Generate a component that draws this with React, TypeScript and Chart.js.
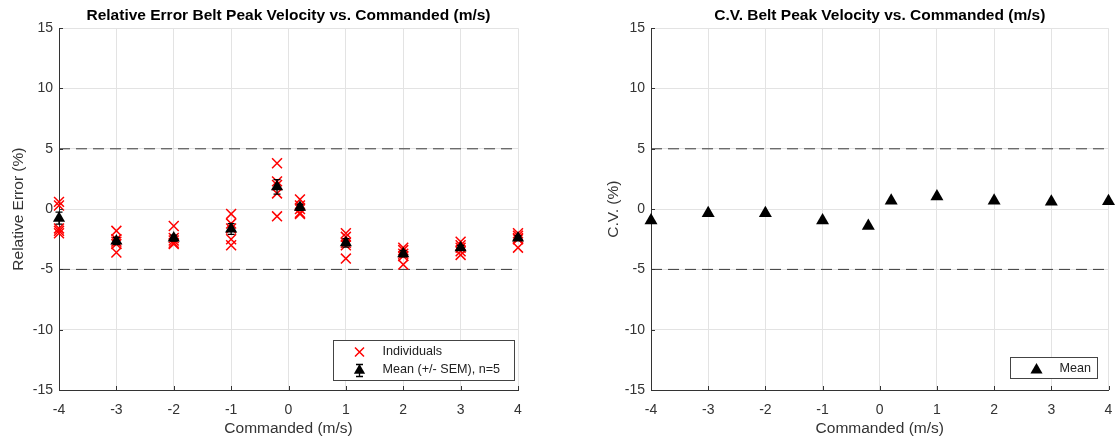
import React, { useEffect, useRef } from "react";
import { Chart, registerables } from "chart.js";
Chart.register(...registerables);

const commanded = [-4, -3, -2, -1, -0.2, 0.2, 1, 2, 3, 4];
const individualErrors = [
  [0.6, 0.3, -1.6, -1.8, -2.0],
  [-1.8, -2.5, -2.7, -2.9, -3.6],
  [-1.4, -2.4, -2.6, -2.8, -2.9],
  [-0.4, -1.2, -1.6, -2.5, -3.0],
  [3.8, 2.3, 2.0, 1.3, -0.6],
  [0.8, 0.3, 0.0, -0.3, -0.4],
  [-2.0, -2.3, -2.8, -3.0, -4.1],
  [-3.2, -3.4, -3.7, -3.9, -4.6],
  [-2.7, -3.0, -3.2, -3.5, -3.8],
  [-2.0, -2.2, -2.4, -2.5, -3.2],
];
const meanErrors = [-0.75, -2.65, -2.4, -1.65, 1.85, 0.15, -2.8, -3.7, -3.2, -2.4];
const semErrors = [0.5, 0.3, 0.25, 0.45, 0.6, 0.25, 0.35, 0.25, 0.2, 0.2];
const cvMeans = [-0.95, -0.35, -0.35, -0.95, -1.4, 0.7, 1.05, 0.7, 0.6, 0.65];
const thresholds = [5, -5];
const xRange = [-4, 4];
const yRange = [-15, 15];

const FONT = "Arial, 'Liberation Sans', sans-serif";
const TICK = "#333333";
const GRID = "#e3e3e3";
const AXIS = "#333333";
const TICK_SIZE = 14;
const LABEL_SIZE = 15.5;
const LEGEND_SIZE = 12.6;

function drawTriangle(ctx: CanvasRenderingContext2D, x: number, y: number, r: number) {
  let rad = 0;
  const TT = (Math.PI * 2) / 3;
  ctx.beginPath();
  ctx.moveTo(x + Math.sin(rad) * r, y - Math.cos(rad) * r);
  rad += TT;
  ctx.lineTo(x + Math.sin(rad) * r, y - Math.cos(rad) * r);
  rad += TT;
  ctx.lineTo(x + Math.sin(rad) * r, y - Math.cos(rad) * r);
  ctx.closePath();
  ctx.fillStyle = "#000";
  ctx.fill();
}

function drawCross(ctx: CanvasRenderingContext2D, x: number, y: number, r: number) {
  ctx.beginPath();
  ctx.strokeStyle = "#ff0000";
  ctx.lineWidth = 1.5;
  ctx.moveTo(x - r, y - r);
  ctx.lineTo(x + r, y + r);
  ctx.moveTo(x - r, y + r);
  ctx.lineTo(x + r, y - r);
  ctx.stroke();
}

function makeDecor(kind: "err" | "cv") {
  return {
    id: "decor" + kind,
    afterDatasetsDraw(chart: any) {
      const ctx: CanvasRenderingContext2D = chart.ctx;
      const xs = chart.scales.x;
      const ys = chart.scales.y;
      if (kind === "err") {
        ctx.save();
        ctx.strokeStyle = "#000";
        ctx.lineWidth = 1.3;
        commanded.forEach((c, i) => {
          const px = xs.getPixelForValue(c);
          const top = ys.getPixelForValue(meanErrors[i] + semErrors[i]);
          const bot = ys.getPixelForValue(meanErrors[i] - semErrors[i]);
          ctx.beginPath();
          ctx.moveTo(px, top);
          ctx.lineTo(px, bot);
          ctx.moveTo(px - 3.5, top);
          ctx.lineTo(px + 3.5, top);
          ctx.moveTo(px - 3.5, bot);
          ctx.lineTo(px + 3.5, bot);
          ctx.stroke();
        });
        ctx.restore();
      }
    },
    afterDraw(chart: any) {
      const ctx: CanvasRenderingContext2D = chart.ctx;
      const ca = chart.chartArea;
      const xs = chart.scales.x;
      const ys = chart.scales.y;
      ctx.save();
      // inward tick marks
      ctx.strokeStyle = AXIS;
      ctx.lineWidth = 1;
      ctx.beginPath();
      xs.ticks.forEach((t: any) => {
        const px = Math.round(xs.getPixelForValue(t.value)) + 0.5;
        ctx.moveTo(px, ca.bottom);
        ctx.lineTo(px, ca.bottom - 4);
      });
      ys.ticks.forEach((t: any) => {
        const py = Math.round(ys.getPixelForValue(t.value)) + 0.5;
        ctx.moveTo(ca.left, py);
        ctx.lineTo(ca.left + 4, py);
      });
      ctx.stroke();

      // legend
      ctx.font = LEGEND_SIZE + "px " + FONT;
      ctx.textBaseline = "middle";
      ctx.textAlign = "left";
      if (kind === "err") {
        const w = 181;
        const h = 40;
        const bx = Math.round(ca.right - 4 - w) + 0.5;
        const by = Math.round(ca.bottom - 10 - h) + 0.5;
        ctx.fillStyle = "#fff";
        ctx.fillRect(bx, by, w, h);
        ctx.strokeStyle = "#444";
        ctx.lineWidth = 1;
        ctx.strokeRect(bx, by, w, h);
        const mx = bx + 26;
        drawCross(ctx, mx, by + 11.5, 4.5);
        drawTriangle(ctx, mx, by + 30, 6.5);
        ctx.strokeStyle = "#000";
        ctx.lineWidth = 1.3;
        ctx.beginPath();
        ctx.moveTo(mx, by + 24);
        ctx.lineTo(mx, by + 36);
        ctx.moveTo(mx - 3.5, by + 24);
        ctx.lineTo(mx + 3.5, by + 24);
        ctx.moveTo(mx - 3.5, by + 36);
        ctx.lineTo(mx + 3.5, by + 36);
        ctx.stroke();
        ctx.fillStyle = "#222";
        ctx.fillText("Individuals", bx + 49, by + 11.5);
        ctx.fillText("Mean (+/- SEM), n=5", bx + 49, by + 29.5);
      } else {
        const w = 87;
        const h = 21;
        const bx = Math.round(ca.right - 11.5 - w) + 0.5;
        const by = Math.round(ca.bottom - 12 - h) + 0.5;
        ctx.fillStyle = "#fff";
        ctx.fillRect(bx, by, w, h);
        ctx.strokeStyle = "#444";
        ctx.lineWidth = 1;
        ctx.strokeRect(bx, by, w, h);
        drawTriangle(ctx, bx + 26, by + 12.5, 7);
        ctx.fillStyle = "#222";
        ctx.fillText("Mean", bx + 49, by + 11);
      }
      ctx.restore();
    },
  };
}

function buildOptions(cfg: { title: string; yTitle: string; yWidth: number; yTitlePad: number; rightPad: number }) {
  return {
    animation: false,
    responsive: false,
    maintainAspectRatio: false,
    devicePixelRatio: 1,
    events: [],
    layout: { padding: { left: 0, right: cfg.rightPad, top: 0, bottom: 0 } },
    plugins: {
      legend: { display: false },
      tooltip: { enabled: false },
      title: {
        display: true,
        text: cfg.title,
        fullSize: false,
        color: "#000",
        font: { family: FONT, size: LABEL_SIZE, weight: "bold" },
        padding: { top: 6.2, bottom: 3.4 },
      },
    },
    scales: {
      x: {
        type: "linear",
        min: xRange[0],
        max: xRange[1],
        afterFit: (s: any) => {
          s.height = 48;
        },
        ticks: { stepSize: 1, color: TICK, font: { family: FONT, size: TICK_SIZE }, padding: 0, autoSkip: false, maxRotation: 0 },
        grid: { color: GRID, drawTicks: true, tickLength: 11.5, tickColor: "rgba(0,0,0,0)", lineWidth: 1 },
        border: { display: true, color: AXIS, width: 1 },
        title: {
          display: true,
          text: "Commanded (m/s)",
          color: TICK,
          font: { family: FONT, size: LABEL_SIZE },
          padding: { top: 0, bottom: 0.2 },
        },
      },
      y: {
        type: "linear",
        min: yRange[0],
        max: yRange[1],
        afterFit: (s: any) => {
          s.width = cfg.yWidth;
        },
        ticks: { stepSize: 5, color: TICK, font: { family: FONT, size: TICK_SIZE }, padding: 6 },
        grid: { color: GRID, drawTicks: false, lineWidth: 1 },
        border: { display: true, color: AXIS, width: 1 },
        title: {
          display: true,
          text: cfg.yTitle,
          color: TICK,
          font: { family: FONT, size: LABEL_SIZE },
          padding: { top: cfg.yTitlePad, bottom: 0 },
        },
      },
    },
  };
}

function thresholdDatasets() {
  return thresholds.map((t) => ({
    type: "line",
    data: [
      { x: xRange[0], y: t },
      { x: xRange[1], y: t },
    ],
    borderColor: "#3a3a3a",
    borderWidth: 1,
    borderDash: [11, 6],
    pointRadius: 0,
    fill: false,
    order: 5,
  }));
}

export default function App() {
  const leftRef = useRef<HTMLCanvasElement | null>(null);
  const rightRef = useRef<HTMLCanvasElement | null>(null);

  useEffect(() => {
    const indivPoints: { x: number; y: number }[] = [];
    commanded.forEach((c, i) => individualErrors[i].forEach((v) => indivPoints.push({ x: c, y: v })));

    const left = new Chart(leftRef.current as HTMLCanvasElement, {
      type: "scatter",
      data: {
        datasets: [
          {
            label: "Mean (+/- SEM), n=5",
            data: commanded.map((c, i) => ({ x: c, y: meanErrors[i] })),
            pointStyle: "triangle",
            pointRadius: 7,
            backgroundColor: "#000",
            borderColor: "#000",
            borderWidth: 0,
            clip: false,
            order: 0,
          },
          {
            label: "Individuals",
            data: indivPoints,
            pointStyle: "crossRot",
            pointRadius: 7,
            borderColor: "#ff0000",
            borderWidth: 1.5,
            clip: false,
            order: 1,
          },
          ...thresholdDatasets(),
        ] as any,
      },
      options: buildOptions({
        title: "Relative Error Belt Peak Velocity vs. Commanded (m/s)",
        yTitle: "Relative Error (%)",
        yWidth: 59,
        yTitlePad: 9.2,
        rightPad: 42,
      }) as any,
      plugins: [makeDecor("err")],
    });

    const right = new Chart(rightRef.current as HTMLCanvasElement, {
      type: "scatter",
      data: {
        datasets: [
          {
            label: "Mean",
            data: commanded.map((c, i) => ({ x: c, y: cvMeans[i] })),
            pointStyle: "triangle",
            pointRadius: 7.5,
            backgroundColor: "#000",
            borderColor: "#000",
            borderWidth: 0,
            clip: false,
            order: 0,
          },
          ...thresholdDatasets(),
        ] as any,
      },
      options: buildOptions({
        title: "C.V. Belt Peak Velocity vs. Commanded (m/s)",
        yTitle: "C.V. (%)",
        yWidth: 91,
        yTitlePad: 44.2,
        rightPad: 5.5,
      }) as any,
      plugins: [makeDecor("cv")],
    });

    return () => {
      left.destroy();
      right.destroy();
    };
  }, []);

  return (
    <div style={{ position: "absolute", left: 0, top: 0, width: 1116, height: 438, background: "#fff" }}>
      <canvas ref={leftRef} width={560} height={438} style={{ position: "absolute", left: 0, top: 0 }} />
      <canvas ref={rightRef} width={556} height={438} style={{ position: "absolute", left: 560, top: 0 }} />
    </div>
  );
}
